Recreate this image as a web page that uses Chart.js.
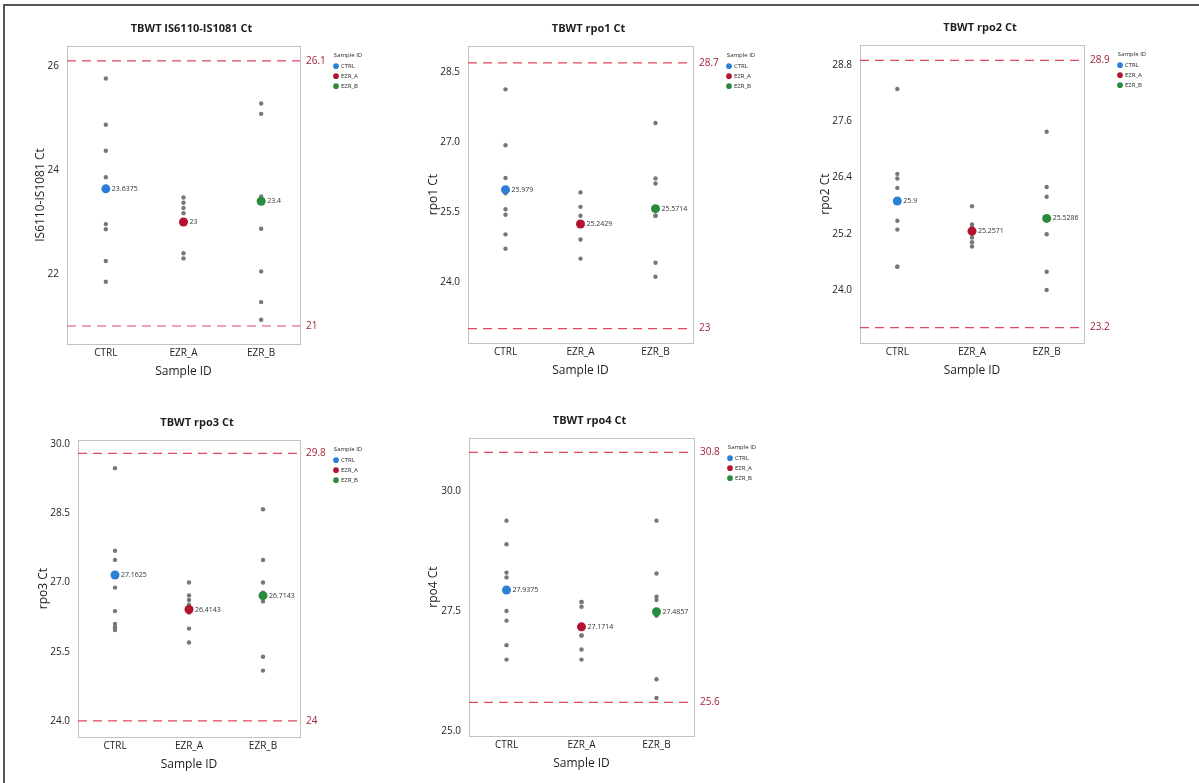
<!DOCTYPE html>
<html>
<head>
<meta charset="utf-8">
<title>TBWT Ct</title>
<script src="https://cdn.jsdelivr.net/npm/chart.js@4.4.1/dist/chart.umd.min.js"></script>
<style>
  html, body { margin: 0; padding: 0; background: #fff; }
  body { width: 1199px; height: 783px; position: relative; overflow: hidden; }
  .frame { position: absolute; left: 3px; top: 4px; right: 0; bottom: 0;
           border-left: 2px solid #555; border-top: 2px solid #555; }
  canvas { position: absolute; }
</style>
</head>
<body>
<div class="frame"></div>
<script>
const groups = ['CTRL', 'EZR_A', 'EZR_B'];

// IS6110-IS1081
const is6110Ctrl = [25.76, 24.87, 24.37, 23.86, 22.96, 22.86, 22.25, 21.85];
const is6110EzrA = [23.47, 23.37, 23.27, 23.17, 23.03, 22.40, 22.30];
const is6110EzrB = [25.28, 25.08, 23.49, 22.87, 22.05, 21.46, 21.12];
const is6110Means = [23.6375, 23, 23.4];
const is6110Refs = [26.1, 21];
const is6110Ticks = [22, 24, 26];

// rpo1
const rpo1Ctrl = [28.13, 26.93, 26.23, 25.90, 25.56, 25.44, 25.02, 24.71];
const rpo1EzrA = [25.92, 25.61, 25.42, 25.28, 25.20, 24.91, 24.50];
const rpo1EzrB = [27.41, 26.22, 26.11, 25.42, 25.42, 24.41, 24.11];
const rpo1Means = [25.979, 25.2429, 25.5714];
const rpo1Refs = [28.7, 23];
const rpo1Ticks = [24, 25.5, 27, 28.5];

// rpo2
const rpo2Ctrl = [28.29, 26.48, 26.38, 26.18, 25.48, 25.29, 24.50, 24.50];
const rpo2EzrA = [25.79, 25.40, 25.34, 25.20, 25.12, 25.02, 24.93];
const rpo2EzrB = [27.38, 26.20, 25.99, 25.55, 25.19, 24.39, 24.00];
const rpo2Means = [25.9, 25.2571, 25.5286];
const rpo2Refs = [28.9, 23.2];
const rpo2Ticks = [24, 25.2, 26.4, 27.6, 28.8];

// rpo3
const rpo3Ctrl = [29.48, 27.69, 27.49, 26.89, 26.38, 26.10, 26.03, 25.97];
const rpo3EzrA = [27.00, 26.72, 26.62, 26.52, 26.35, 26.00, 25.70];
const rpo3EzrB = [28.59, 27.49, 27.00, 26.78, 26.59, 25.39, 25.09];
const rpo3Means = [27.1625, 26.4143, 26.7143];
const rpo3Refs = [29.8, 24];
const rpo3Ticks = [24, 25.5, 27, 28.5, 30];

// rpo4
const rpo4Ctrl = [29.38, 28.89, 28.30, 28.20, 27.50, 27.30, 26.79, 26.49];
const rpo4EzrA = [27.69, 27.69, 27.59, 26.99, 26.99, 26.70, 26.49];
const rpo4EzrB = [29.38, 28.28, 27.80, 27.73, 27.40, 26.08, 25.69];
const rpo4Means = [27.9375, 27.1714, 27.4857];
const rpo4Refs = [30.8, 25.6];
const rpo4Ticks = [25, 27.5, 30];

const colors = {
  ctrl: '#2b7fd6',
  ezrA: '#b3132f',
  ezrB: '#2a8a3c',
  point: '#777777',
  ref: '#e2475f',
  refText: '#a3233a',
  frame: '#c2c2c2',
  text: '#1e1e1e'
};
const meanColors = [colors.ctrl, colors.ezrA, colors.ezrB];
const font = '"Open Sans", "Noto Sans", sans-serif';

const panels = [
  { title: 'TBWT IS6110-IS1081 Ct', yTitle: 'IS6110-IS1081 Ct', values: [is6110Ctrl, is6110EzrA, is6110EzrB],
    means: is6110Means, refs: is6110Refs, ticks: is6110Ticks, decimals: 0, min: 20.654, max: 26.385,
    box: { left: 67, top: 46, width: 233, height: 298 }, yTitlePad: 16 },
  { title: 'TBWT rpo1 Ct', yTitle: 'rpo1 Ct', values: [rpo1Ctrl, rpo1EzrA, rpo1EzrB],
    means: rpo1Means, refs: rpo1Refs, ticks: rpo1Ticks, decimals: 1, min: 22.69, max: 29.06,
    box: { left: 468, top: 46, width: 225, height: 297 }, yTitlePad: 8 },
  { title: 'TBWT rpo2 Ct', yTitle: 'rpo2 Ct', values: [rpo2Ctrl, rpo2EzrA, rpo2EzrB],
    means: rpo2Means, refs: rpo2Refs, ticks: rpo2Ticks, decimals: 1, min: 22.87, max: 29.23,
    box: { left: 860, top: 45, width: 224, height: 298 }, yTitlePad: 8 },
  { title: 'TBWT rpo3 Ct', yTitle: 'rpo3 Ct', values: [rpo3Ctrl, rpo3EzrA, rpo3EzrB],
    means: rpo3Means, refs: rpo3Refs, ticks: rpo3Ticks, decimals: 1, min: 23.65, max: 30.09,
    box: { left: 78, top: 440, width: 222, height: 297 }, yTitlePad: 8 },
  { title: 'TBWT rpo4 Ct', yTitle: 'rpo4 Ct', values: [rpo4Ctrl, rpo4EzrA, rpo4EzrB],
    means: rpo4Means, refs: rpo4Refs, ticks: rpo4Ticks, decimals: 1, min: 24.9, max: 31.1,
    box: { left: 469, top: 438, width: 225, height: 298 }, yTitlePad: 7 }
];

const Y_W = 50, REF_W = 30, LEG_W = 36, TOP_H = 34, X_H = 41;

// grey box round the plot area
const plotFrame = {
  id: 'plotFrame',
  beforeDatasetsDraw(chart) {
    const { left, top, right, bottom } = chart.chartArea;
    const ctx = chart.ctx;
    ctx.save();
    ctx.strokeStyle = colors.frame;
    ctx.lineWidth = 1;
    ctx.strokeRect(Math.round(left) + 0.5, Math.round(top) + 0.5, Math.round(right - left), Math.round(bottom - top));
    ctx.restore();
  }
};

// mean value written next to the coloured point
const meanLabels = {
  id: 'meanLabels',
  afterDatasetsDraw(chart) {
    const ctx = chart.ctx;
    ctx.save();
    ctx.font = '7px ' + font;
    ctx.fillStyle = '#333';
    ctx.textBaseline = 'middle';
    chart.data.datasets.forEach((ds, i) => {
      if (!ds.meanLabel) return;
      const pt = chart.getDatasetMeta(i).data[0];
      ctx.fillText(ds.meanLabel, pt.x + 6, pt.y);
    });
    ctx.restore();
  }
};

panels.forEach(p => {
  const canvas = document.createElement('canvas');
  const w = Y_W + p.box.width + REF_W + LEG_W;
  const h = TOP_H + p.box.height + X_H;
  canvas.width = w;
  canvas.height = h;
  canvas.style.left = (p.box.left - Y_W) + 'px';
  canvas.style.top = (p.box.top - TOP_H) + 'px';
  canvas.style.width = w + 'px';
  canvas.style.height = h + 'px';
  document.body.appendChild(canvas);

  const meanSets = groups.map((g, i) => ({
    label: g,
    data: [{ x: i, y: p.means[i] }],
    backgroundColor: meanColors[i],
    borderColor: meanColors[i],
    borderWidth: 0,
    pointRadius: 4.5,
    meanLabel: String(p.means[i]),
    order: 0
  }));
  const pointSets = groups.map((g, i) => ({
    label: g + ' values',
    data: p.values[i].map(v => ({ x: i, y: v })),
    backgroundColor: colors.point,
    borderWidth: 0,
    pointRadius: 2.2,
    order: 1
  }));
  const refSets = p.refs.map(r => ({
    label: 'ref ' + r,
    data: [{ x: -0.5, y: r }, { x: 2.5, y: r }],
    showLine: true,
    borderColor: colors.ref,
    borderWidth: 1.2,
    borderDash: [9, 6],
    pointRadius: 0,
    order: 2
  }));

  new Chart(canvas.getContext('2d'), {
    type: 'scatter',
    data: { datasets: [...meanSets, ...pointSets, ...refSets] },
    options: {
      responsive: false,
      animation: false,
      devicePixelRatio: 1,
      layout: { padding: 0 },
      plugins: {
        title: {
          display: true, text: p.title, color: colors.text,
          font: { family: font, size: 11, weight: 'bold' },
          padding: { top: 10, bottom: 10.8 }
        },
        legend: {
          position: 'right', align: 'start', maxWidth: LEG_W, fullSize: false,
          title: { display: true, text: 'Sample ID', color: colors.text, position: 'center',
                   font: { family: font, size: 6 }, padding: { top: 6, bottom: 0 } },
          labels: {
            usePointStyle: true, pointStyle: 'circle', boxWidth: 4, boxHeight: 4,
            padding: 4, color: colors.text,
            font: { family: font, size: 6 },
            filter: item => groups.includes(item.text)
          }
        },
        tooltip: { enabled: false }
      },
      scales: {
        x: {
          type: 'linear', min: -0.5, max: 2.5,
          afterBuildTicks: axis => { axis.ticks = groups.map((g, i) => ({ value: i })); },
          afterFit: axis => { axis.height = X_H; },
          ticks: { callback: v => groups[v], color: colors.text, padding: 3, font: { family: font, size: 10 } },
          grid: { display: false, drawTicks: false },
          border: { display: false },
          title: { display: true, text: 'Sample ID', color: colors.text,
                   font: { family: font, size: 12 }, padding: { top: 2, bottom: 6 } }
        },
        y: {
          min: p.min, max: p.max,
          afterBuildTicks: axis => { axis.ticks = p.ticks.map(v => ({ value: v })); },
          afterFit: axis => { axis.width = Y_W; },
          ticks: { callback: v => v.toFixed(p.decimals), color: colors.text, padding: 8, font: { family: font, size: 10 } },
          grid: { display: false, drawTicks: false },
          border: { display: false },
          title: { display: true, text: p.yTitle, color: colors.text,
                   font: { family: font, size: 12 }, padding: { top: p.yTitlePad, bottom: 0 } }
        },
        yRef: {
          position: 'right', min: p.min, max: p.max,
          afterBuildTicks: axis => { axis.ticks = p.refs.map(v => ({ value: v })); },
          afterFit: axis => { axis.width = REF_W; },
          ticks: { callback: v => String(v), color: colors.refText, padding: 6, font: { family: font, size: 10 } },
          grid: { display: false, drawTicks: false },
          border: { display: false }
        }
      }
    },
    plugins: [plotFrame, meanLabels]
  });
});
</script>
</body>
</html>
